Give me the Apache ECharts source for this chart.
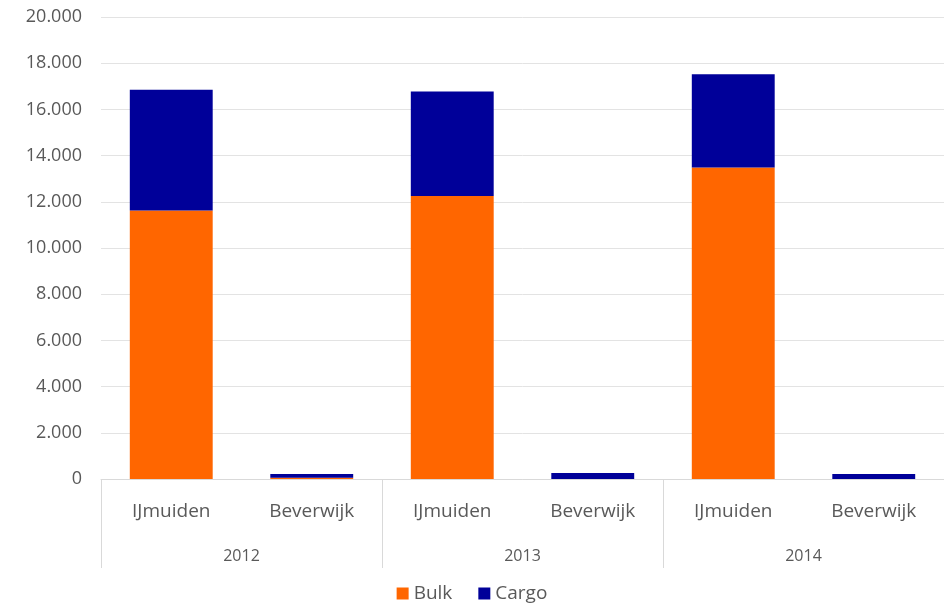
<!DOCTYPE html>
<html>
<head>
<meta charset="utf-8">
<script src="https://cdn.jsdelivr.net/npm/echarts@6/dist/echarts.min.js"></script>
<style>
html,body{margin:0;padding:0;background:#fff;}
#chart{width:944px;height:604px;}
</style>
</head>
<body>
<div id="chart"></div>
<script>
const locations = ['IJmuiden', 'Beverwijk', 'IJmuiden', 'Beverwijk', 'IJmuiden', 'Beverwijk'];
const years = ['2012', '2013', '2014'];
const bulk = [11620, 50, 12255, 0, 13490, 0];
const cargo = [5230, 165, 4520, 255, 4035, 215];
const yTicks = { min: 0, max: 20000, interval: 2000 };

const font = '"Open Sans", Lato, sans-serif';
const textColor = '#595959';
const chart = echarts.init(document.getElementById('chart'));
chart.setOption({
  animation: false,
  grid: { left: 101, right: 0, top: 17, bottom: 125 },
  legend: {
    bottom: -4,
    left: 'center',
    itemWidth: 12,
    itemHeight: 12,
    itemGap: 26,
    icon: 'rect',
    textStyle: { color: textColor, fontFamily: font, fontSize: 19 },
    data: ['Bulk', 'Cargo']
  },
  xAxis: [
    {
      type: 'category',
      data: locations,
      position: 'bottom',
      axisLine: { lineStyle: { color: '#d9d9d9', width: 1 } },
      axisTick: { show: false },
      axisLabel: { color: textColor, fontFamily: font, fontSize: 19, margin: 23 }
    },
    {
      type: 'category',
      data: years,
      position: 'bottom',
      gridIndex: 0,
      axisLine: { show: false },
      axisTick: { show: true, length: 89, interval: 0, lineStyle: { color: '#d9d9d9' } },
      axisLabel: { color: textColor, fontFamily: font, fontSize: 16, margin: 69 },
      splitLine: { show: false }
    }
  ],
  yAxis: {
    type: 'value',
    min: yTicks.min,
    max: yTicks.max,
    interval: yTicks.interval,
    axisLine: { show: false },
    axisTick: { show: false },
    splitLine: { lineStyle: { color: '#e3e3e3', width: 1 } },
    axisLabel: {
      color: textColor,
      fontFamily: font,
      fontSize: 18,
      margin: 19,
      formatter: v => v === 0 ? '0' : (v / 1000).toFixed(3)
    }
  },
  series: [
    {
      name: 'Bulk', type: 'bar', stack: 'total', data: bulk,
      barWidth: '59%', itemStyle: { color: '#FF6600' }
    },
    {
      name: 'Cargo', type: 'bar', stack: 'total', data: cargo,
      barWidth: '59%', itemStyle: { color: '#000099' }
    }
  ]
});
</script>
</body>
</html>
